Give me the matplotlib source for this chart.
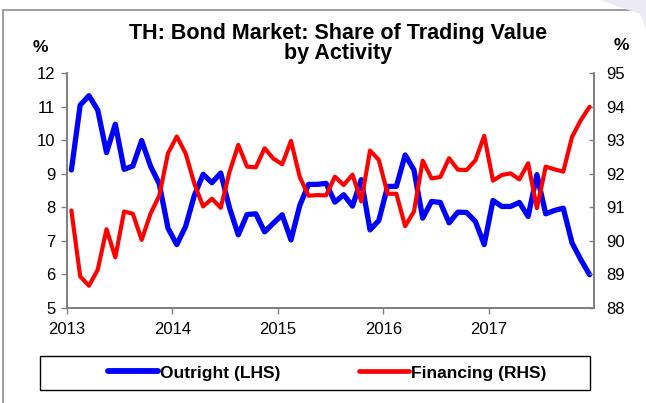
import numpy as np
import matplotlib
matplotlib.use('Agg')
import matplotlib.pyplot as plt
import matplotlib.patches as patches
from matplotlib.lines import Line2D

plt.rcParams['font.family'] = ['Liberation Sans', 'DejaVu Sans']

# monthly data, Jan 2013 - Dec 2017
outright = [9.11, 11.05, 11.33, 10.90, 9.63, 10.48, 9.13, 9.23, 9.99, 9.23, 8.70, 7.37,
            6.88, 7.42, 8.35, 8.98, 8.73, 9.02, 7.98, 7.17, 7.78, 7.80, 7.26, 7.52,
            7.77, 7.02, 8.05, 8.68, 8.68, 8.71, 8.15, 8.37, 8.03, 8.82, 7.32, 7.60,
            8.62, 8.62, 9.56, 9.11, 7.67, 8.17, 8.14, 7.53, 7.85, 7.84, 7.57, 6.88,
            8.20, 8.02, 8.02, 8.14, 7.72, 8.97, 7.80, 7.90, 7.97, 6.93, 6.43, 5.98]
financing = [90.90, 88.93, 88.65, 89.13, 90.34, 89.50, 90.87, 90.80, 90.02, 90.80, 91.34, 92.61,
             93.11, 92.61, 91.70, 91.02, 91.25, 90.98, 92.05, 92.86, 92.21, 92.19, 92.76, 92.45,
             92.28, 92.98, 91.90, 91.34, 91.36, 91.35, 91.91, 91.66, 91.97, 91.17, 92.69, 92.41,
             91.40, 91.40, 90.43, 90.87, 92.39, 91.86, 91.90, 92.46, 92.12, 92.11, 92.40, 93.13,
             91.79, 91.96, 92.01, 91.83, 92.31, 90.97, 92.21, 92.13, 92.06, 93.10, 93.60, 94.00]
years = ['2013', '2014', '2015', '2016', '2017']
title_lines = ['TH: Bond Market: Share of Trading Value', 'by Activity']

W, H = 646, 403
fig = plt.figure(figsize=(W / 100, H / 100), dpi=100)

def fx(px):
    return px / W

def fy(py):
    return 1 - py / H

# outer frame and corner decoration
fig.patches.append(patches.Rectangle((fx(3), fy(H + 5)), 1.2, fy(10) - fy(H + 5),
                                     transform=fig.transFigure, fill=False,
                                     edgecolor='#8c8c8c', linewidth=1.2))
fig.patches.append(patches.Polygon([(fx(600), 1), (1, 1), (1, fy(28)), (fx(640), fy(14))],
                                   closed=True, transform=fig.transFigure,
                                   facecolor='#ebeaf5', edgecolor='none'))

ax = fig.add_axes([fx(67), fy(307.5), fx(594) - fx(67), fy(73.3) - fy(307.5)])
ax2 = ax.twinx()

x = np.arange(len(outright))
ax.plot(x, outright, color='#0000ff', lw=3.8, solid_joinstyle='round',
        solid_capstyle='round', label='Outright (LHS)')
ax2.plot(x, financing, color='#ff0000', lw=3.0, solid_joinstyle='round',
         solid_capstyle='round', label='Financing (RHS)')

ax.set_xlim(-0.5, len(outright) - 0.5)
ax.set_ylim(5, 12)
ax2.set_ylim(88, 95)
ax.set_xticks(np.arange(len(years)) * 12 - 0.5)
ax.set_xticklabels(years)
ax.set_yticks(np.arange(5, 13))
ax2.set_yticks(np.arange(88, 96))

spine_c = '#808080'
for a in (ax, ax2):
    a.spines['top'].set_visible(False)
    for s in ('left', 'right', 'bottom'):
        a.spines[s].set_color(spine_c)
        a.spines[s].set_linewidth(1.3)
    a.patch.set_visible(False)
ax.tick_params(axis='y', direction='out', length=4.5, width=1, color=spine_c,
               labelsize=12, pad=4)
ax.tick_params(axis='x', direction='out', length=4.5, width=1, color=spine_c,
               labelsize=12, pad=6)
ax2.tick_params(axis='y', direction='in', length=3.5, width=1, color=spine_c,
                labelsize=12, pad=9)

fig.text(fx(338), fy(33), title_lines[0], ha='center', va='center', fontsize=15.5,
         fontweight='bold')
fig.text(fx(338), fy(54), title_lines[1], ha='center', va='center', fontsize=15.5,
         fontweight='bold')
fig.text(fx(40), fy(47), '%', ha='center', va='center', fontsize=12.5, fontweight='bold')
fig.text(fx(621), fy(45), '%', ha='center', va='center', fontsize=12.5, fontweight='bold')

# legend box
fig.patches.append(patches.Rectangle((fx(40), fy(390)), fx(590) - fx(40), fy(356) - fy(390),
                                     transform=fig.transFigure, fill=False,
                                     edgecolor='black', linewidth=1.0))
handles = [Line2D([], [], color='#0000ff', lw=4.2, solid_capstyle='round'),
           Line2D([], [], color='#ff0000', lw=3.4, solid_capstyle='round')]
fig.legend(handles, ['Outright (LHS)', 'Financing (RHS)'], loc='center',
           bbox_to_anchor=(fx(327), fy(373)), ncol=2, frameon=False,
           prop={'weight': 'bold', 'size': 12.5}, handlelength=2.9,
           handletextpad=0.1, columnspacing=4.5)

fig.savefig('out.png', dpi=100)
